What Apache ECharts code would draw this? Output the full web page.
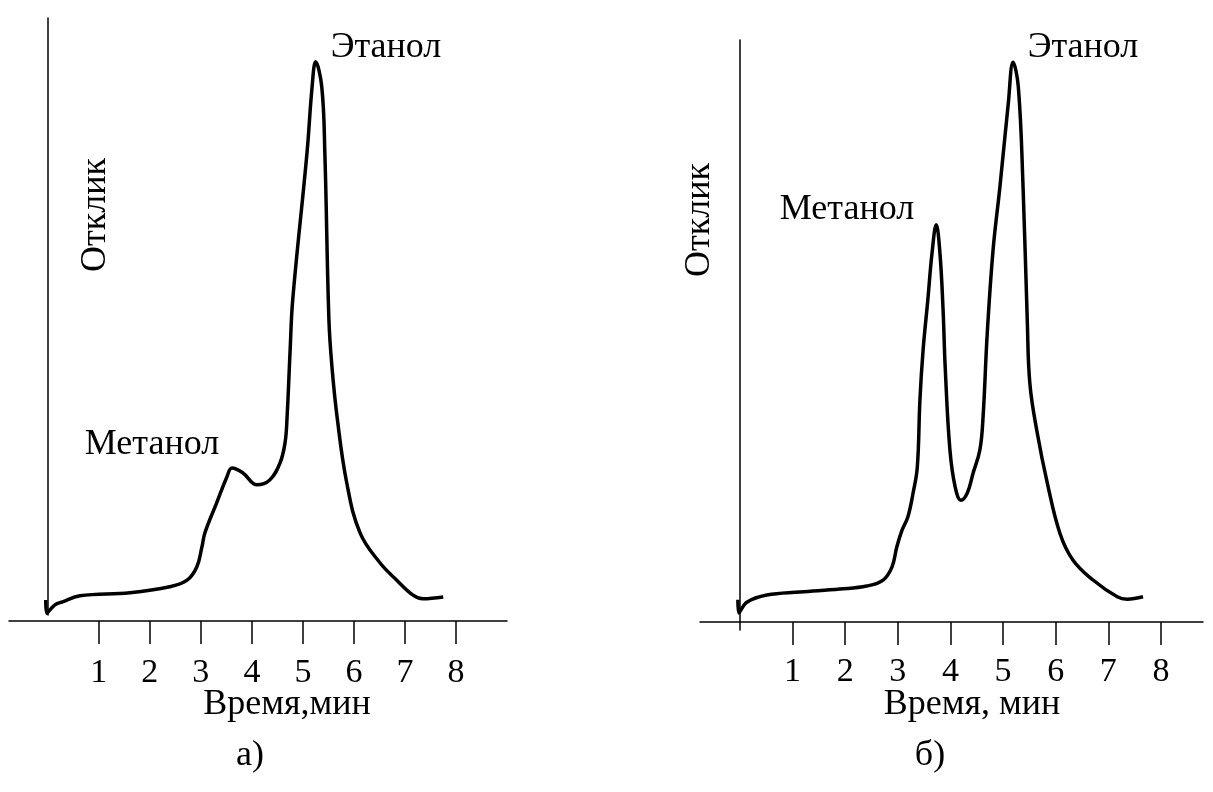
<!DOCTYPE html>
<html>
<head>
<meta charset="utf-8">
<script src="https://cdn.jsdelivr.net/npm/echarts@6/dist/echarts.min.js"></script>
<style>
html,body{margin:0;padding:0;background:#fff;}
#chart{width:1213px;height:792px;}
</style>
</head>
<body>
<div id="chart"></div>
<script>
// Tick labels (minutes)
const tickValues = [1, 2, 3, 4, 5, 6, 7, 8];

// Chromatogram а): time (min) and response
const leftTime = [-0.04,-0.02,0.14,0.29,0.63,1.61,2.39,2.73,2.92,3.02,3.08,3.31,3.51,3.61,3.82,4.10,4.35,4.55,4.65,4.69,4.75,4.80,5.08,5.18,5.25,5.37,5.43,5.51,5.57,5.67,5.86,6.12,6.51,6.84,7.16,7.35,7.75];
const leftResp = [3.5,1.3,2.7,3.2,4.2,4.7,5.7,6.8,9.0,12.3,14.7,19.7,24.0,25.5,24.7,22.7,23.5,26.3,29.7,34.0,45.2,53.5,78,89,93.2,89,78,50.2,42.3,34,23,14.7,9.7,6.8,4.3,3.7,4.0];

// Chromatogram б): time (min) and response
const rightTime = [-0.04,-0.02,0.13,0.51,1.14,1.90,2.41,2.72,2.89,2.98,3.08,3.19,3.29,3.37,3.42,3.48,3.57,3.65,3.73,3.80,3.86,3.90,3.99,4.09,4.20,4.32,4.43,4.56,4.62,4.70,4.81,4.94,5.10,5.19,5.29,5.38,5.46,5.51,5.65,5.84,6.08,6.33,6.71,7.17,7.36,7.66];
const rightResp = [3.7,1.5,3.3,4.5,5.0,5.5,6.0,7.0,9.2,12.5,15.3,17.5,21.5,25.8,37.0,45.3,53.7,61.5,66.2,61.5,52,42.5,28.7,22.5,20.3,21.5,24.8,28.7,34.2,48.2,62,72.5,86.5,93.3,89.2,72.5,50.3,39.7,31.5,23.2,14.8,10.3,7.0,4.2,3.8,4.2];

const FONT = '"Liberation Serif","Times New Roman",serif';

function pairs(xs, ys){ return xs.map((x,i)=>[x, ys[i]]); }

const chart = echarts.init(document.getElementById('chart'), null, {renderer:'canvas'});

function xAxisCfg(gridIndex, min, max, onZero, offset, margin){
  return {
    type:'value', gridIndex, min, max, offset,
    splitLine:{show:false},
    axisLine:{show:true, onZero, lineStyle:{color:'#000', width:1.5}},
    axisTick:{show:true, customValues:tickValues, length:23, inside:false, lineStyle:{color:'#000', width:1.5}},
    axisLabel:{show:true, customValues:tickValues, margin, color:'#000', fontFamily:FONT, fontSize:34}
  };
}
function yAxisCfg(gridIndex, min, max){
  return {
    type:'value', gridIndex, min, max,
    splitLine:{show:false},
    axisLine:{show:true, onZero:true, lineStyle:{color:'#000', width:1.5}},
    axisTick:{show:false},
    axisLabel:{show:false}
  };
}

function txt(x, y, text, size, rot){
  return {
    type:'text', x, y, rotation: rot || 0,
    style:{text, fill:'#000', font: size + 'px ' + FONT, align:'center', verticalAlign:'middle'}
  };
}

chart.setOption({
  animation:false,
  backgroundColor:'#fff',
  grid:[
    {left:9, top:18, width:498, height:597, outerBoundsMode:'none', containLabel:false},
    {left:700, top:40, width:503, height:590, outerBoundsMode:'none', containLabel:false}
  ],
  xAxis:[
    xAxisCfg(0, -0.76, 9.0, false, 6, 35),
    xAxisCfg(1, -0.76, 8.8, true, 0, 25)
  ],
  yAxis:[
    yAxisCfg(0, 1.0, 100.5),
    yAxisCfg(1, -1.33, 97)
  ],
  series:[
    {type:'line', xAxisIndex:0, yAxisIndex:0, data:pairs(leftTime, leftResp), smooth:0.4, symbol:'none',
     lineStyle:{color:'#000', width:3.5}, clip:false},
    {type:'line', xAxisIndex:1, yAxisIndex:1, data:pairs(rightTime, rightResp), smooth:0.4, symbol:'none',
     lineStyle:{color:'#000', width:3.5}, clip:false}
  ],
  graphic:[
    txt(386, 48, 'Этанол', 36),
    txt(152, 445, 'Метанол', 36),
    txt(96, 215, 'Отклик', 36, Math.PI/2),
    txt(287, 705, 'Время,мин', 36),
    txt(250, 756, 'а)', 36),
    txt(1083, 48, 'Этанол', 36),
    txt(847, 210, 'Метанол', 36),
    txt(700, 220, 'Отклик', 36, Math.PI/2),
    txt(972, 705, 'Время, мин', 36),
    txt(930, 756, 'б)', 36)
  ]
});
</script>
</body>
</html>
